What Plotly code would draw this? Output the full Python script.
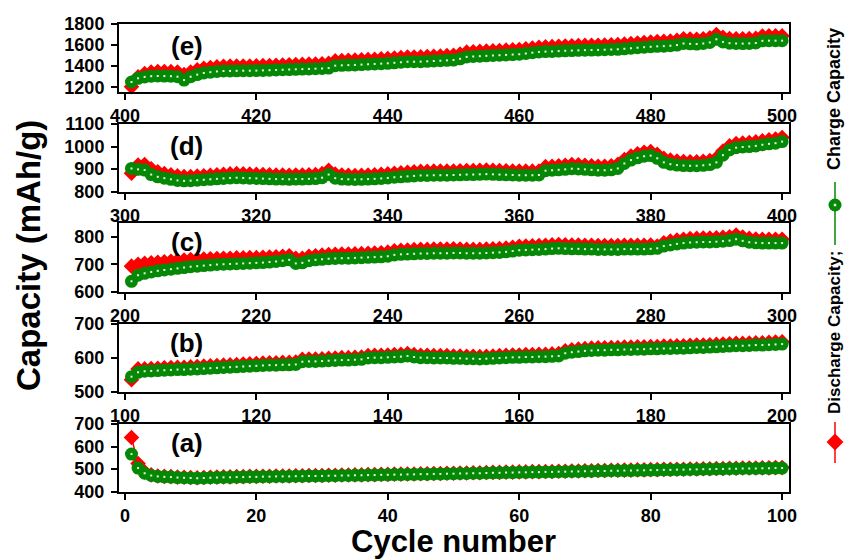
import plotly.graph_objects as go

# ---------------- data ----------------
cycles_a = list(range(1, 101))
charge_a = [567,505,482,472,468,466,465,463,462,461,
            460,461,462,463,464,464,465,465,466,466,
            467,467,468,468,468,469,469,470,470,470,
            471,471,472,472,473,473,474,474,475,475,
            476,476,477,477,478,478,479,479,480,480,
            481,481,482,482,483,484,484,485,485,486,
            486,487,487,488,488,489,489,490,490,491,
            491,492,492,493,493,494,494,495,495,496,
            496,497,497,498,498,499,499,500,500,501,
            501,502,502,503,503,503,504,504,505,505]
discharge_a = [640,525,488,475,470,468,467,465,464,463,
               462,463,464,465,466,466,467,467,468,468,
               469,469,470,470,470,471,471,472,472,472,
               473,473,474,474,475,475,476,476,477,477,
               478,478,479,479,480,480,481,481,482,482,
               483,483,484,484,485,486,486,487,487,488,
               488,489,489,490,490,491,491,492,492,493,
               493,494,494,495,495,496,496,497,497,498,
               498,499,499,500,500,501,501,502,502,503,
               503,504,504,505,505,505,506,506,507,507]

cycles_b = list(range(101, 201))
charge_b = [545,558,561,562,563,564,565,566,566,567,
            568,569,570,571,572,573,574,575,576,577,
            578,579,579,580,580,581,589,590,590,591,
            592,593,594,594,595,596,600,601,601,602,
            603,604,606,603,601,601,600,600,600,599,
            599,598,598,597,598,599,600,601,602,602,
            603,603,604,604,605,606,614,617,619,621,
            622,623,623,624,624,625,625,626,626,627,
            627,628,628,629,629,630,631,631,632,633,
            634,635,636,636,637,638,638,639,640,641]
discharge_b = [536,568,568,569,570,571,572,573,573,574,
               575,576,577,578,579,580,581,582,583,584,
               585,586,586,587,587,588,596,597,597,598,
               599,600,601,601,602,603,607,608,608,609,
               610,611,613,610,608,608,607,607,607,606,
               606,605,605,604,605,606,607,608,609,609,
               610,610,611,611,612,613,621,624,626,628,
               629,630,630,631,631,632,632,633,633,634,
               634,635,635,636,636,637,638,638,639,640,
               641,642,643,643,644,645,645,646,647,648]

cycles_c = list(range(201, 301))
charge_c = [638,660,667,672,676,679,682,685,688,691,
            693,695,697,699,700,701,702,703,704,705,
            706,708,710,713,716,703,705,713,716,718,
            720,721,722,722,723,724,725,726,727,729,
            734,736,737,738,739,739,740,740,740,741,
            741,740,740,740,741,742,743,745,748,751,
            752,753,754,755,757,758,757,756,756,755,
            755,754,754,754,754,755,755,755,755,756,
            758,766,770,774,777,779,780,781,781,782,
            784,786,791,785,780,778,777,777,777,777]
discharge_c = [693,700,703,705,707,709,711,713,715,717,
               718,719,720,721,722,722,723,723,724,724,
               725,726,727,729,731,722,722,729,731,733,
               735,736,737,737,738,739,740,741,742,744,
               749,751,752,753,754,754,755,755,755,756,
               755,754,754,754,755,756,757,759,762,765,
               766,767,768,769,771,772,771,770,770,769,
               769,768,768,768,768,769,769,769,769,770,
               766,778,784,788,791,793,794,795,795,796,
               798,800,806,799,794,792,791,791,791,791]

cycles_d = list(range(301, 401))
charge_d = [903,899,896,876,866,860,855,850,848,849,
            851,853,855,857,859,861,862,861,860,859,
            858,857,856,856,855,856,856,857,858,862,
            876,860,856,855,854,855,856,857,859,861,
            864,866,868,870,872,872,873,873,873,874,
            875,876,876,877,878,877,876,875,874,873,
            873,873,874,893,895,897,899,902,901,899,
            897,895,895,897,903,925,940,950,957,960,
            948,930,922,918,916,915,915,917,920,930,
            962,985,995,998,1000,1003,1008,1012,1015,1022]
discharge_d = [882,918,920,902,888,880,875,870,867,867,
               869,871,873,875,877,879,880,879,878,877,
               876,875,874,874,873,874,874,875,876,880,
               895,878,874,873,872,873,874,875,877,879,
               882,884,886,888,890,890,891,891,891,892,
               893,894,894,895,896,895,894,893,892,891,
               891,891,892,911,913,915,917,920,919,917,
               915,913,913,915,921,943,958,968,975,978,
               966,948,940,936,934,933,933,935,938,948,
               980,1003,1013,1016,1018,1021,1026,1030,1033,1040]

cycles_e = list(range(401, 501))
charge_e = [1250,1285,1298,1305,1307,1306,1305,1300,1268,1300,
            1320,1335,1343,1350,1354,1355,1356,1357,1357,1358,
            1360,1362,1364,1366,1368,1370,1372,1374,1376,1378,
            1382,1405,1408,1410,1412,1415,1418,1421,1424,1427,
            1432,1437,1442,1442,1443,1446,1449,1452,1455,1458,
            1470,1488,1492,1495,1498,1501,1504,1507,1510,1513,
            1520,1528,1535,1538,1540,1543,1546,1548,1550,1552,
            1553,1554,1556,1558,1560,1565,1570,1575,1580,1584,
            1588,1590,1594,1600,1615,1612,1610,1615,1625,1655,
            1630,1618,1615,1614,1616,1620,1640,1642,1642,1642]
discharge_e = [1205,1300,1330,1345,1350,1350,1348,1345,1320,1345,
               1365,1380,1388,1395,1399,1400,1401,1402,1402,1403,
               1405,1407,1409,1411,1413,1415,1417,1419,1421,1423,
               1427,1450,1453,1455,1457,1460,1463,1466,1469,1472,
               1477,1482,1487,1487,1488,1491,1494,1497,1500,1503,
               1515,1533,1537,1540,1543,1546,1549,1552,1555,1558,
               1565,1573,1580,1583,1585,1588,1591,1593,1595,1597,
               1598,1599,1601,1603,1605,1610,1615,1620,1625,1629,
               1633,1635,1639,1645,1660,1657,1655,1660,1670,1700,
               1675,1663,1660,1659,1661,1665,1685,1687,1687,1687]

panel_labels = ["(a)", "(b)", "(c)", "(d)", "(e)"]
x_ranges = [(-0.9, 101.05), (99.1, 201.05), (199.1, 301.05), (299.1, 401.05), (399.1, 501.05)]
y_ranges = [(399, 700), (500, 700), (599, 850), (798.7, 1100), (1155, 1800)]
y_ticks = [[400, 500, 600, 700], [500, 600, 700], [600, 700, 800],
           [800, 900, 1000, 1100], [1200, 1400, 1600, 1800]]
x_ticks = [[0, 20, 40, 60, 80, 100], [100, 120, 140, 160, 180, 200],
           [200, 220, 240, 260, 280, 300], [300, 320, 340, 360, 380, 400],
           [400, 420, 440, 460, 480, 500]]
series_name_dis = "Discharge Capacity;"
series_name_chg = "Charge Capacity"

# ---------------- figure ----------------
W, H = 848, 560
FONT = "Liberation Sans, Arial, sans-serif"
RED = "#ff0000"
GREEN = "#058805"
SPOT = "#e6f6e6"

panels = [(cycles_a, charge_a, discharge_a), (cycles_b, charge_b, discharge_b),
          (cycles_c, charge_c, discharge_c), (cycles_d, charge_d, discharge_d),
          (cycles_e, charge_e, discharge_e)]

# pixel boxes (top, bottom) of panels a..e
boxes = [(424, 492), (324, 392), (223, 292), (124, 192), (24, 92)]
x_left, x_right = 119, 789
label_y = [0.72, 0.72, 0.73, 0.67, 0.68]

fig = go.Figure()
layout = dict(width=W, height=H, margin=dict(l=0, r=0, t=0, b=0, autoexpand=False),
              paper_bgcolor="white", plot_bgcolor="rgba(0,0,0,0)",
              showlegend=False, font=dict(family=FONT, color="black"))
annotations = []

for i, (cx, ch, dis) in enumerate(panels):
    n = i + 1
    xa = "x" if n == 1 else f"x{n}"
    ya = "y" if n == 1 else f"y{n}"
    top, bot = boxes[i]
    ax_common = dict(showline=True, mirror=True, linewidth=2, linecolor="black",
                     ticks="outside", ticklen=6, tickwidth=2, tickcolor="black",
                     showgrid=False, zeroline=False, automargin=False,
                     tickfont=dict(family=FONT, size=18, color="black", weight="bold"))
    layout[f"xaxis{n if n > 1 else ''}"] = dict(
        domain=[x_left / W, x_right / W], range=list(x_ranges[i]), anchor=ya,
        tickvals=x_ticks[i], **ax_common)
    layout[f"yaxis{n if n > 1 else ''}"] = dict(
        domain=[1 - bot / H, 1 - top / H], range=list(y_ranges[i]), anchor=xa,
        tickvals=y_ticks[i], ticklabelstandoff=3, **ax_common)

    fig.add_trace(go.Scatter(x=cx, y=dis, mode="lines+markers", xaxis=xa, yaxis=ya,
                             line=dict(color=RED, width=1.5),
                             marker=dict(symbol="diamond", size=12, color=RED),
                             cliponaxis=False, name=series_name_dis))
    fig.add_trace(go.Scatter(x=cx, y=ch, mode="lines+markers", xaxis=xa, yaxis=ya,
                             line=dict(color=GREEN, width=1.5),
                             marker=dict(symbol="circle", size=13, color=GREEN),
                             cliponaxis=False, name=series_name_chg))
    fig.add_trace(go.Scatter(x=cx, y=ch, mode="markers", xaxis=xa, yaxis=ya,
                             marker=dict(symbol="square", size=2, color=SPOT),
                             cliponaxis=False, hoverinfo="skip"))
    annotations.append(dict(text=panel_labels[i], xref=f"{xa} domain", yref=f"{ya} domain",
                            x=0.101, y=label_y[i], xanchor="center", yanchor="middle",
                            showarrow=False,
                            font=dict(family=FONT, size=26, color="black", weight="bold")))

# overlay axes (pixel space) for the vertical legend glyphs
layout["xaxis6"] = dict(domain=[0, 1], range=[0, W], visible=False, anchor="y6",
                        fixedrange=True, automargin=False)
layout["yaxis6"] = dict(domain=[0, 1], range=[H, 0], visible=False, anchor="x6",
                        fixedrange=True, automargin=False)
LX = 835
fig.add_trace(go.Scatter(x=[LX, LX], y=[182, 245], mode="lines", xaxis="x6", yaxis="y6",
                         line=dict(color=GREEN, width=1.5), hoverinfo="skip"))
fig.add_trace(go.Scatter(x=[LX], y=[205], mode="markers", xaxis="x6", yaxis="y6",
                         marker=dict(symbol="circle", size=13, color=GREEN), hoverinfo="skip"))
fig.add_trace(go.Scatter(x=[LX], y=[205], mode="markers", xaxis="x6", yaxis="y6",
                         marker=dict(symbol="square", size=2.5, color=SPOT), hoverinfo="skip"))
fig.add_trace(go.Scatter(x=[LX, LX], y=[422, 463], mode="lines", xaxis="x6", yaxis="y6",
                         line=dict(color=RED, width=1.5), hoverinfo="skip"))
fig.add_trace(go.Scatter(x=[LX], y=[442], mode="markers", xaxis="x6", yaxis="y6",
                         marker=dict(symbol="diamond", size=13, color=RED), hoverinfo="skip"))

annotations += [
    dict(text=series_name_chg, xref="paper", yref="paper", x=834 / W, y=1 - 99 / H,
         textangle=-90, xanchor="center", yanchor="middle", showarrow=False,
         font=dict(family=FONT, size=18, color="black", weight="bold")),
    dict(text=series_name_dis, xref="paper", yref="paper", x=834 / W, y=1 - 333 / H,
         textangle=-90, xanchor="center", yanchor="middle", showarrow=False,
         font=dict(family=FONT, size=17, color="black", weight="bold")),
    dict(text="Capacity (mAh/g)", xref="paper", yref="paper", x=29 / W, y=1 - 256 / H,
         textangle=-90, xanchor="center", yanchor="middle", showarrow=False,
         font=dict(family=FONT, size=33, color="black", weight="bold")),
    dict(text="Cycle number", xref="paper", yref="paper", x=453 / W, y=0,
         xanchor="center", yanchor="bottom", showarrow=False, borderpad=0,
         font=dict(family=FONT, size=31, color="black", weight="bold")),
]
layout["annotations"] = annotations
fig.update_layout(**layout)
fig.write_html("out.html")
